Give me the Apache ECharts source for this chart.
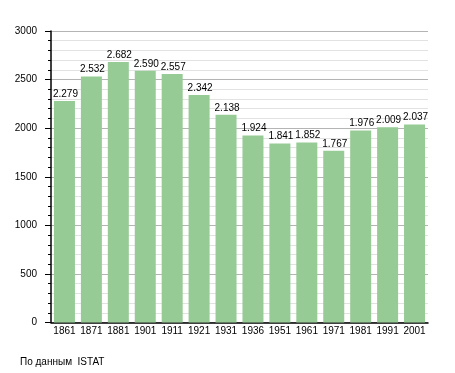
<!DOCTYPE html>
<html><head><meta charset="utf-8">
<script src="https://cdn.jsdelivr.net/npm/echarts@6/dist/echarts.min.js"></script>
<style>html,body{margin:0;padding:0;background:#fff}#c{width:455px;height:373px}</style>
</head><body><div id="c"></div>
<script>
const years = ['1861','1871','1881','1901','1911','1921','1931','1936','1951','1961','1971','1981','1991','2001'];
const population = [2279,2532,2682,2590,2557,2342,2138,1924,1841,1852,1767,1976,2009,2037];
const sourceText = 'По данным  ISTAT';

const chart = echarts.init(document.getElementById('c'), null, {renderer:'canvas'});
const font = 'Liberation Sans, Arial, sans-serif';
chart.setOption({
  animation:false,
  title:{text:sourceText,left:20,top:357,padding:0,textStyle:{fontSize:10,fontWeight:'normal',color:'#000',fontFamily:font}},
  grid:{left:51,right:27,top:31,bottom:50.5,containLabel:false},
  xAxis:{type:'category',data:years,
    axisLine:{lineStyle:{color:'#000',width:1.5}},
    axisTick:{show:false},
    axisLabel:{color:'#000',fontSize:10,fontFamily:font,margin:4,interval:0},
    splitLine:{show:false}},
  yAxis:{type:'value',min:0,max:3000,interval:500,
    axisLine:{show:true,lineStyle:{color:'#000',width:1.5}},
    axisTick:{show:true,length:6,lineStyle:{color:'#000'}},
    minorTick:{show:true,splitNumber:5,length:3,lineStyle:{color:'#000'}},
    axisLabel:{color:'#000',fontSize:10,fontFamily:font,margin:14,formatter:v=>String(v)},
    splitLine:{show:true,lineStyle:{color:'#b4b4b4',width:1}},
    minorSplitLine:{show:true,lineStyle:{color:'#e2e2e2',width:1}}},
  series:[{type:'bar',data:population,barWidth:21,
    itemStyle:{color:'#96cb96'},
    label:{show:true,position:[-1,-2],align:'left',verticalAlign:'bottom',
      color:'#000',fontSize:10,fontFamily:font,
      formatter:p=>{const s=String(p.value);return s.slice(0,s.length-3)+'.'+s.slice(-3);}}}]
});
</script></body></html>
